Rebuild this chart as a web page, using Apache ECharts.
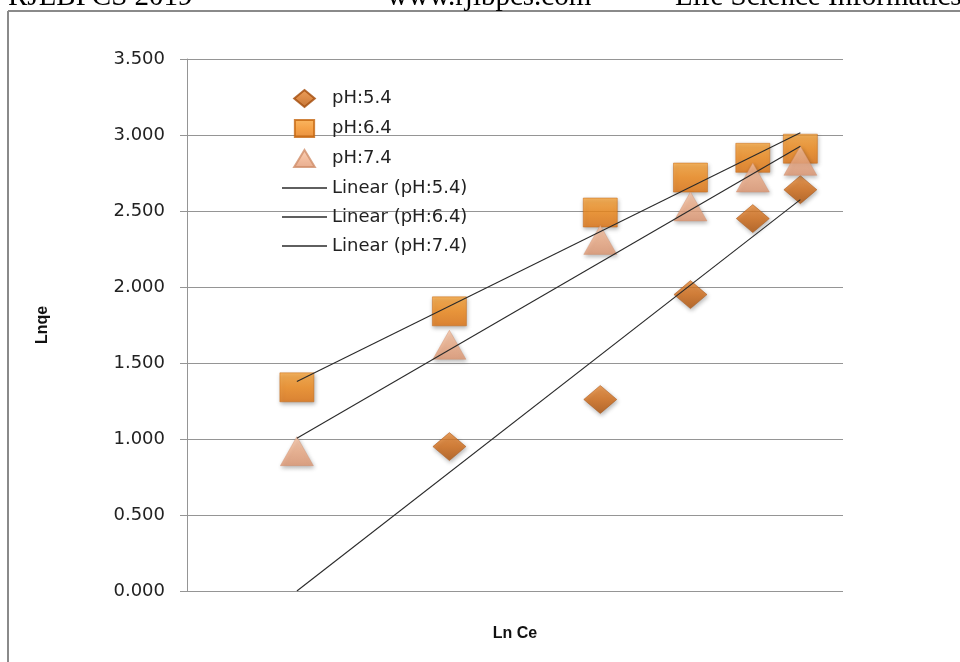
<!DOCTYPE html>
<html>
<head>
<meta charset="utf-8">
<script src="https://cdn.jsdelivr.net/npm/echarts@6/dist/echarts.min.js"></script>
<style>
  html, body { margin: 0; padding: 0; background: #fff; }
  #chart { width: 960px; height: 662px; }
</style>
</head>
<body>
<div id="chart"></div>
<script>
// Ln Ce (x) shared by all three pH runs
const lnCe = [0.67, 1.60, 2.52, 3.07, 3.45, 3.74];
// Ln qe per pH; the first pH 5.4 cell is blank
const ph54 = [null, 0.95, 1.26, 1.95, 2.45, 2.64];
const ph64 = [1.34, 1.84, 2.49, 2.72, 2.85, 2.91];
const ph74 = [0.92, 1.62, 2.31, 2.53, 2.72, 2.83];

const seriesNames = ['pH:5.4', 'pH:6.4', 'pH:7.4'];
const trendNames = ['Linear (pH:5.4)', 'Linear (pH:6.4)', 'Linear (pH:7.4)'];
const yTicks = [0, 0.5, 1, 1.5, 2, 2.5, 3, 3.5];

// least-squares line over the x range; blank cells count as zero
function linearFit(xs, ys) {
  const pts = xs.map((x, i) => [x, ys[i] == null ? 0 : ys[i]]);
  const n = pts.length;
  const mx = pts.reduce((s, p) => s + p[0], 0) / n;
  const my = pts.reduce((s, p) => s + p[1], 0) / n;
  let sxy = 0, sxx = 0;
  pts.forEach(p => { sxy += (p[0] - mx) * (p[1] - my); sxx += (p[0] - mx) ** 2; });
  const b = sxy / sxx, a = my - b * mx;
  const x0 = Math.min(...xs), x1 = Math.max(...xs);
  return [[x0, a + b * x0], [x1, a + b * x1]];
}

function pairs(xs, ys) {
  return xs.map((x, i) => ys[i] == null ? null : [x, ys[i]]).filter(Boolean);
}

function grad(stops) {
  return new echarts.graphic.LinearGradient(0, 0, 0, 1,
    stops.map((c, i) => ({ offset: i / (stops.length - 1), color: c })));
}

const shadow = { shadowBlur: 4, shadowOffsetX: 1, shadowOffsetY: 2, shadowColor: 'rgba(0,0,0,0.35)' };

const markerStyles = [
  { symbol: 'diamond', size: [33, 28],
    icon: 'path://M8.5 0 L17 7 L8.5 14 L0 7 Z',
    style: Object.assign({ color: grad(['#e98a35', '#d46d18', '#b0530a']), borderColor: '#a24b0a', borderWidth: 0.6 }, shadow) },
  { symbol: 'rect', size: [34, 29],
    icon: 'path://M0 0 H17 V15 H0 Z',
    style: Object.assign({ color: grad(['#f9a53a', '#f38b1b', '#e27512']), borderColor: '#c4650f', borderWidth: 0.6 }, shadow) },
  { symbol: 'triangle', size: [33, 29],
    icon: 'path://M8.5 0 L17 14 L0 14 Z',
    style: Object.assign({ color: grad(['#f8c5a6', '#f0ae88', '#e19873']), borderColor: '#cf8d69', borderWidth: 0.5 }, shadow) }
];
const lineIcon = 'path://M0 0 H45 V1.4 H0 Z';

const yData = [ph54, ph64, ph74];
const font = 'DejaVu Sans';
const trendColor = '#2a2a2a';

const series = [];
yData.forEach((ys, i) => {
  series.push({
    name: seriesNames[i],
    type: 'scatter',
    symbol: markerStyles[i].symbol,
    symbolSize: markerStyles[i].size,
    itemStyle: markerStyles[i].style,
    data: pairs(lnCe, ys),
    z: 2 + i
  });
});
yData.forEach((ys, i) => {
  series.push({
    name: trendNames[i],
    type: 'line',
    symbol: 'none',
    silent: true,
    lineStyle: { color: trendColor, width: 1.1 },
    itemStyle: { color: trendColor },
    data: linearFit(lnCe, ys),
    z: 10
  });
});

const legendData = seriesNames.map((n, i) => ({ name: n, icon: markerStyles[i].icon }))
  .concat(trendNames.map(n => ({ name: n, icon: lineIcon })));

const chart = echarts.init(document.getElementById('chart'), null, { renderer: 'canvas' });
chart.setOption({
  backgroundColor: '#ffffff',
  animation: false,
  grid: { left: 187, right: 117, top: 59, bottom: 71, containLabel: false },
  xAxis: {
    type: 'value', min: 0, max: 4,
    name: 'Ln Ce', nameLocation: 'middle', nameGap: 35,
    nameTextStyle: { fontFamily: 'Liberation Sans', fontWeight: 'bold', fontSize: 16, color: '#111' },
    axisLine: { show: false }, axisTick: { show: false }, axisLabel: { show: false },
    splitLine: { show: false }
  },
  yAxis: {
    type: 'value', min: 0, max: 3.5, interval: 0.5,
    name: 'Lnqe', nameLocation: 'middle', nameGap: 136, nameRotate: 90,
    nameTextStyle: { fontFamily: 'Liberation Sans', fontWeight: 'bold', fontSize: 16, color: '#111' },
    axisLine: { show: true, lineStyle: { color: '#959595', width: 1 } },
    axisTick: { show: true, inside: false, length: 7, lineStyle: { color: '#959595' } },
    axisLabel: {
      margin: 22, fontFamily: font, fontSize: 18, color: '#222',
      formatter: v => yTicks.includes(v) ? v.toFixed(3) : ''
    },
    splitLine: { show: true, lineStyle: { color: '#959595', width: 1 } }
  },
  legend: {
    orient: 'vertical', left: 282, top: 89, padding: 0,
    itemWidth: 45, itemHeight: 17, itemGap: 11,
    textStyle: { fontFamily: font, fontSize: 18, color: '#222' },
    data: legendData
  },
  graphic: [
    { type: 'line', silent: true, shape: { x1: 8, y1: 11, x2: 960, y2: 11 }, style: { stroke: '#8a8a8a', lineWidth: 2 } },
    { type: 'line', silent: true, shape: { x1: 8, y1: 11, x2: 8, y2: 662 }, style: { stroke: '#8a8a8a', lineWidth: 2 } },
    { type: 'text', silent: true, left: 8, top: -17, style: { text: 'RJLBPCS 2019', font: '29px "Liberation Serif"', fill: '#000' } },
    { type: 'text', silent: true, left: 387, top: -17, style: { text: 'www.rjlbpcs.com', font: '29px "Liberation Serif"', fill: '#000' } },
    { type: 'text', silent: true, left: 675, top: -17, style: { text: 'Life Science Informatics', font: '29px "Liberation Serif"', fill: '#000' } }
  ],
  series: series
});
</script>
</body>
</html>
